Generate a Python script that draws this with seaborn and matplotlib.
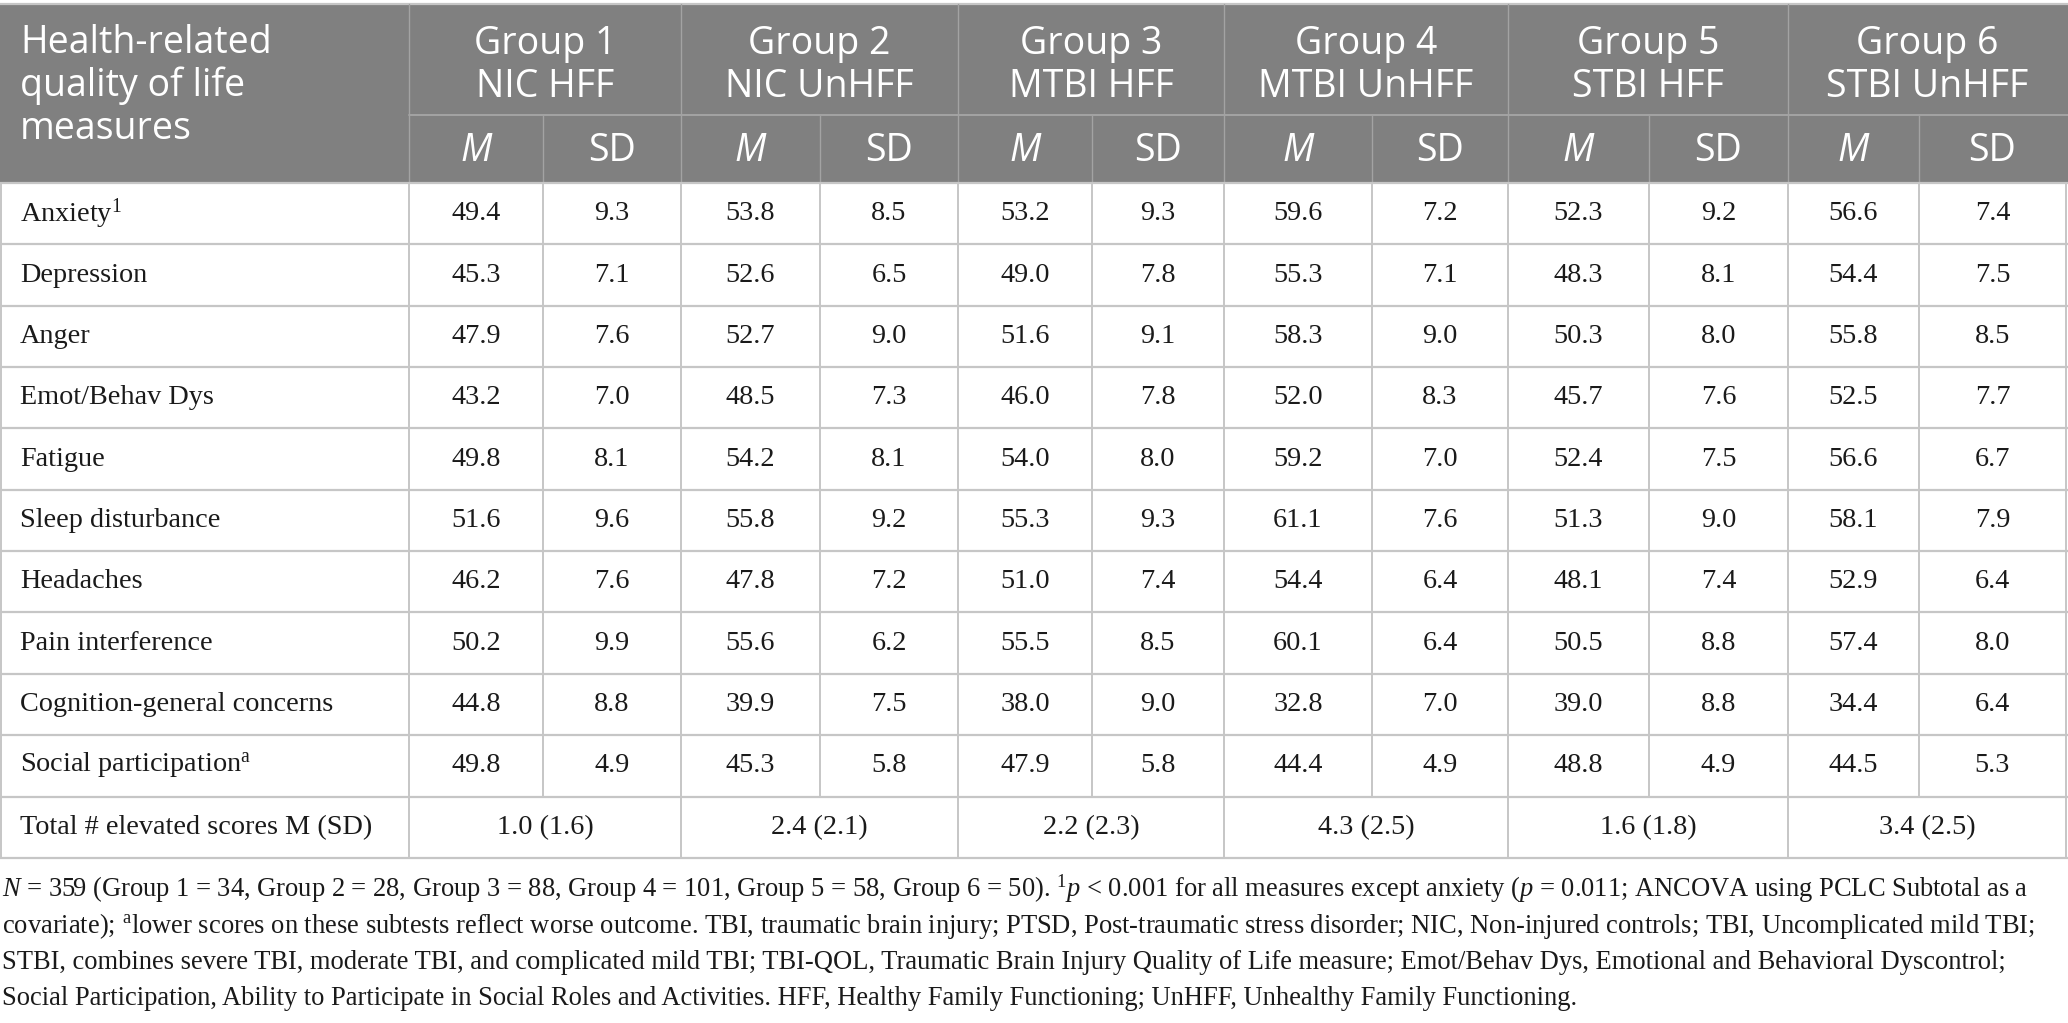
import numpy as np
import pandas as pd
import seaborn as sns
import matplotlib.pyplot as plt

# table content
measures = ["Anxiety", "Depression", "Anger", "Emot/Behav Dys", "Fatigue",
            "Sleep disturbance", "Headaches", "Pain interference",
            "Cognition-general concerns", "Social participation"]
measure_marks = ["1", "", "", "", "", "", "", "", "", "a"]

group_names = ["Group 1", "Group 2", "Group 3", "Group 4", "Group 5", "Group 6"]
group_desc = ["NIC HFF", "NIC UnHFF", "MTBI HFF", "MTBI UnHFF", "STBI HFF", "STBI UnHFF"]

g1_m = [49.4, 45.3, 47.9, 43.2, 49.8, 51.6, 46.2, 50.2, 44.8, 49.8]
g1_sd = [9.3, 7.1, 7.6, 7.0, 8.1, 9.6, 7.6, 9.9, 8.8, 4.9]
g2_m = [53.8, 52.6, 52.7, 48.5, 54.2, 55.8, 47.8, 55.6, 39.9, 45.3]
g2_sd = [8.5, 6.5, 9.0, 7.3, 8.1, 9.2, 7.2, 6.2, 7.5, 5.8]
g3_m = [53.2, 49.0, 51.6, 46.0, 54.0, 55.3, 51.0, 55.5, 38.0, 47.9]
g3_sd = [9.3, 7.8, 9.1, 7.8, 8.0, 9.3, 7.4, 8.5, 9.0, 5.8]
g4_m = [59.6, 55.3, 58.3, 52.0, 59.2, 61.1, 54.4, 60.1, 32.8, 44.4]
g4_sd = [7.2, 7.1, 9.0, 8.3, 7.0, 7.6, 6.4, 6.4, 7.0, 4.9]
g5_m = [52.3, 48.3, 50.3, 45.7, 52.4, 51.3, 48.1, 50.5, 39.0, 48.8]
g5_sd = [9.2, 8.1, 8.0, 7.6, 7.5, 9.0, 7.4, 8.8, 8.8, 4.9]
g6_m = [56.6, 54.4, 55.8, 52.5, 56.6, 58.1, 52.9, 57.4, 34.4, 44.5]
g6_sd = [7.4, 7.5, 8.5, 7.7, 6.7, 7.9, 6.4, 8.0, 6.4, 5.3]

total_m = [1.0, 2.4, 2.2, 4.3, 1.6, 3.4]
total_sd = [1.6, 2.1, 2.3, 2.5, 1.8, 2.5]

header_lines = ["Health-related", "quality of life", "measures"]

footnote_lines = [
    "$N$ = 359 (Group 1 = 34, Group 2 = 28, Group 3 = 88, Group 4 = 101, Group 5 = 58, Group 6 = 50). "
    "$^{1}p$ < 0.001 for all measures except anxiety ($p$ = 0.011; ANCOVA using PCLC Subtotal as a",
    "covariate); $^{\\mathrm{a}}$lower scores on these subtests reflect worse outcome. TBI, traumatic brain injury; "
    "PTSD, Post-traumatic stress disorder; NIC, Non-injured controls; TBI, Uncomplicated mild TBI;",
    "STBI, combines severe TBI, moderate TBI, and complicated mild TBI; TBI-QOL, Traumatic Brain Injury "
    "Quality of Life measure; Emot/Behav Dys, Emotional and Behavioral Dyscontrol;",
    "Social Participation, Ability to Participate in Social Roles and Activities. HFF, Healthy Family "
    "Functioning; UnHFF, Unhealthy Family Functioning.",
]

means = pd.DataFrame(dict(zip(group_names, [g1_m, g2_m, g3_m, g4_m, g5_m, g6_m])), index=measures)
sds = pd.DataFrame(dict(zip(group_names, [g1_sd, g2_sd, g3_sd, g4_sd, g5_sd, g6_sd])), index=measures)

sns.set_theme(style="white")
plt.rcParams["mathtext.fontset"] = "custom"
plt.rcParams["mathtext.rm"] = "Liberation Serif"
plt.rcParams["mathtext.it"] = "Liberation Serif:italic"

W, H = 2068, 1023
fig = plt.figure(figsize=(W / 100, H / 100), dpi=100)
ax = fig.add_axes([0, 0, 1, 1])
ax.set_xlim(0, W)
ax.set_ylim(H, 0)
ax.axis("off")

# layout (pixels)
x_edges = [1, 409, 543, 681, 820, 958, 1092, 1224, 1372, 1508, 1649, 1788, 1919, 2066]
y_top, y_mid, y_head = 4, 115, 183
row_h = 61.35
n_rows = len(measures) + 1
y_rows = [y_head + i * row_h for i in range(n_rows + 1)]

head_gray = "#808080"
head_line = "#a3a3a3"
grid = "#c6c6c6"
txt = "#1a1a1a"
serif = "Liberation Serif"
sans = "Open Sans"
fs_body = 20.3
fs_head = 27
fs_note = 19.1

# header background
ax.add_patch(plt.Rectangle((0, y_top), W, y_head - y_top, color=head_gray, lw=0, zorder=0))
ax.plot([0, W], [y_top, y_top], color=grid, lw=1.6)
ax.plot([x_edges[1], W], [y_mid, y_mid], color=head_line, lw=1.4)
for i in range(1, len(x_edges) - 1):
    top = y_top if i % 2 == 1 else y_mid
    ax.plot([x_edges[i], x_edges[i]], [top, y_head], color=head_line, lw=1.0)

for k, line in enumerate(header_lines):
    ax.text(20, 43 + 43 * k, line, color="white", fontsize=fs_head,
            family=sans, ha="left", va="center")

for g in range(6):
    xl, xm, xr = x_edges[1 + 2 * g], x_edges[2 + 2 * g], x_edges[3 + 2 * g]
    ax.text((xl + xr) / 2, 44, group_names[g], color="white", fontsize=fs_head,
            family=sans, ha="center", va="center")
    ax.text((xl + xr) / 2, 87, group_desc[g], color="white", fontsize=fs_head,
            family=sans, ha="center", va="center")
    ax.text((xl + xm) / 2, 151, "M", color="white", fontsize=fs_head, family=sans,
            style="italic", ha="center", va="center")
    ax.text((xm + xr) / 2, 151, "SD", color="white", fontsize=fs_head, family=sans,
            ha="center", va="center")

# body grid
for y in y_rows:
    ax.plot([0, W], [y, y], color=grid, lw=1.6)
for i, x in enumerate(x_edges):
    bottom = y_rows[-1] if (i % 2 == 1 or i == 0 or i == len(x_edges) - 1) else y_rows[-2]
    ax.plot([x, x], [y_head, bottom], color=grid, lw=1.4)

# body text
for r, name in enumerate(measures):
    yc = (y_rows[r] + y_rows[r + 1]) / 2
    label = name + (f"$^{{\\mathrm{{{measure_marks[r]}}}}}$" if measure_marks[r] else "")
    ax.text(20, yc, label, fontsize=fs_body, family=serif, color=txt, ha="left", va="center")
    for g, grp in enumerate(group_names):
        xl, xm, xr = x_edges[1 + 2 * g], x_edges[2 + 2 * g], x_edges[3 + 2 * g]
        ax.text((xl + xm) / 2, yc, f"{means.loc[name, grp]:.1f}", fontsize=fs_body,
                family=serif, color=txt, ha="center", va="center")
        ax.text((xm + xr) / 2, yc, f"{sds.loc[name, grp]:.1f}", fontsize=fs_body,
                family=serif, color=txt, ha="center", va="center")

yc = (y_rows[-2] + y_rows[-1]) / 2
ax.text(20, yc, "Total # elevated scores M (SD)", fontsize=fs_body, family=serif,
        color=txt, ha="left", va="center")
for g in range(6):
    xl, xr = x_edges[1 + 2 * g], x_edges[3 + 2 * g]
    ax.text((xl + xr) / 2, yc, f"{total_m[g]:.1f} ({total_sd[g]:.1f})", fontsize=fs_body,
            family=serif, color=txt, ha="center", va="center")

# footnote
for k, line in enumerate(footnote_lines):
    ax.text(2, 897 + 36 * k, line, fontsize=fs_note, family=serif, color=txt,
            ha="left", va="baseline")

fig.savefig("out.png", dpi=100)
